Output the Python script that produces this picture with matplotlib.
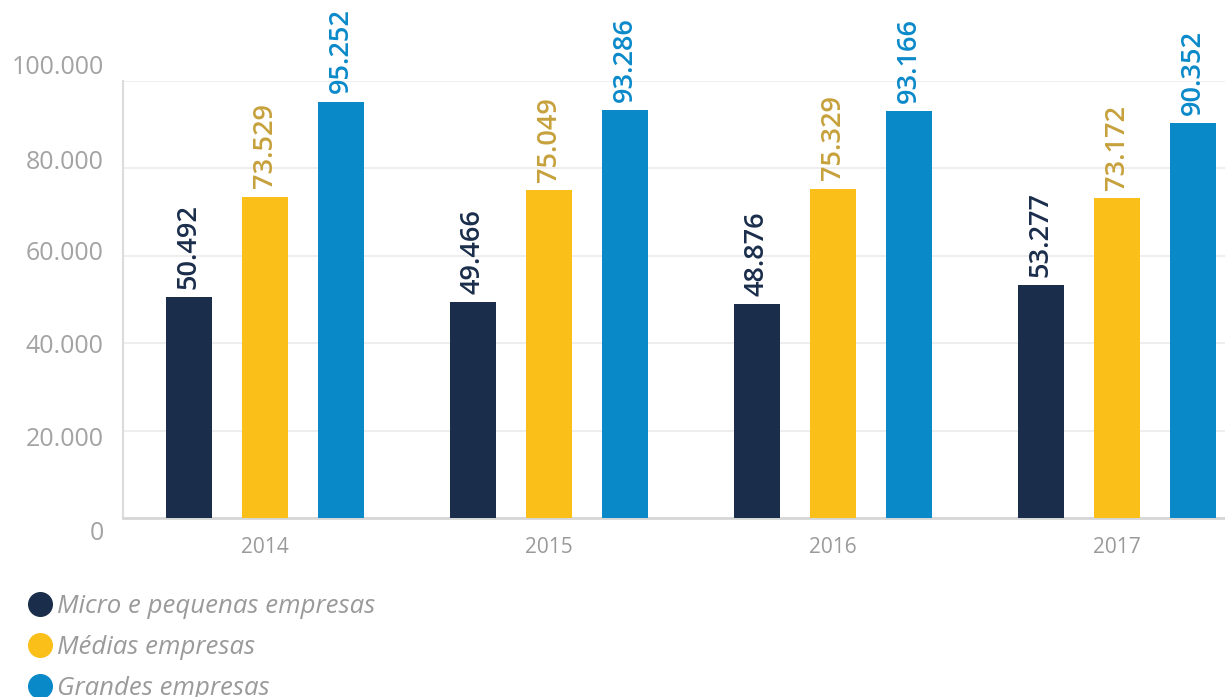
import matplotlib.pyplot as plt
import numpy as np
from matplotlib.lines import Line2D
from matplotlib.transforms import ScaledTranslation

# dados
anos = ["2014", "2015", "2016", "2017"]
micro = [50492, 49466, 48876, 53277]
medias = [73529, 75049, 75329, 73172]
grandes = [95252, 93286, 93166, 90352]
series = ["Micro e pequenas empresas", "Médias empresas", "Grandes empresas"]
yticks = [0, 20000, 40000, 60000, 80000, 100000]

cores = ["#1a2d4b", "#fbbf1a", "#0a89c9"]
cores_rotulo = ["#1a2d4b", "#c6a13c", "#0a89c9"]

plt.rcParams['font.family'] = ['Open Sans', 'DejaVu Sans']

fig = plt.figure(figsize=(12.25, 6.97), dpi=100)
ax = fig.add_axes([0.1004, 0.2568, 0.8996, 0.627])

x = np.arange(len(anos))
w = 0.162
off = 0.268

def fmt(v):
    return f"{v:,.0f}".replace(",", ".")

for i, vals in enumerate([micro, medias, grandes]):
    bars = ax.bar(x + (i - 1) * off, vals, width=w, color=cores[i], zorder=3)
    ax.bar_label(bars, labels=[fmt(v) for v in vals], rotation=90, padding=6,
                 color=cores_rotulo[i], fontsize=19.5, fontweight="semibold", clip_on=False)

ax.set_xlim(-0.5, 3.38)
ax.set_ylim(0, 100000)
ax.set_xticks(x)
ax.set_xticklabels(anos)
ax.set_yticks(yticks)
ax.set_yticklabels([fmt(v) for v in yticks])
ax.tick_params(axis="x", length=0, pad=14, labelsize=15, labelcolor="#9a9a9a")
ax.tick_params(axis="y", length=0, pad=14, labelsize=18, labelcolor="#a3a3a3")

# rótulos do eixo y ficam um pouco deslocados no original
desloc = [-12, -6, 0, 5, 9, 16]
for lab, d in zip(ax.get_yticklabels(), desloc):
    lab.set_transform(lab.get_transform() + ScaledTranslation(0, d / 100, fig.dpi_scale_trans))

ax.grid(axis="y", color="#ebebeb", linewidth=1.2, zorder=0)
ax.spines["top"].set_visible(False)
ax.spines["right"].set_visible(False)
ax.spines["left"].set_color("#dcdcdc")
ax.spines["bottom"].set_color("#d6d6d6")
ax.spines["left"].set_linewidth(1.5)
ax.spines["bottom"].set_linewidth(2)

handles = [Line2D([], [], marker="o", linestyle="", markersize=17, color=c) for c in cores]
leg = fig.legend(handles, series, loc="upper left", bbox_to_anchor=(0.012, 0.163),
                 frameon=False, fontsize=18.5, labelspacing=0.62, handletextpad=0.05,
                 handlelength=1.2, borderaxespad=0)
for t in leg.get_texts():
    t.set_color("#9a9a9a")
    t.set_fontstyle("italic")

fig.savefig("out.png", dpi=100)
